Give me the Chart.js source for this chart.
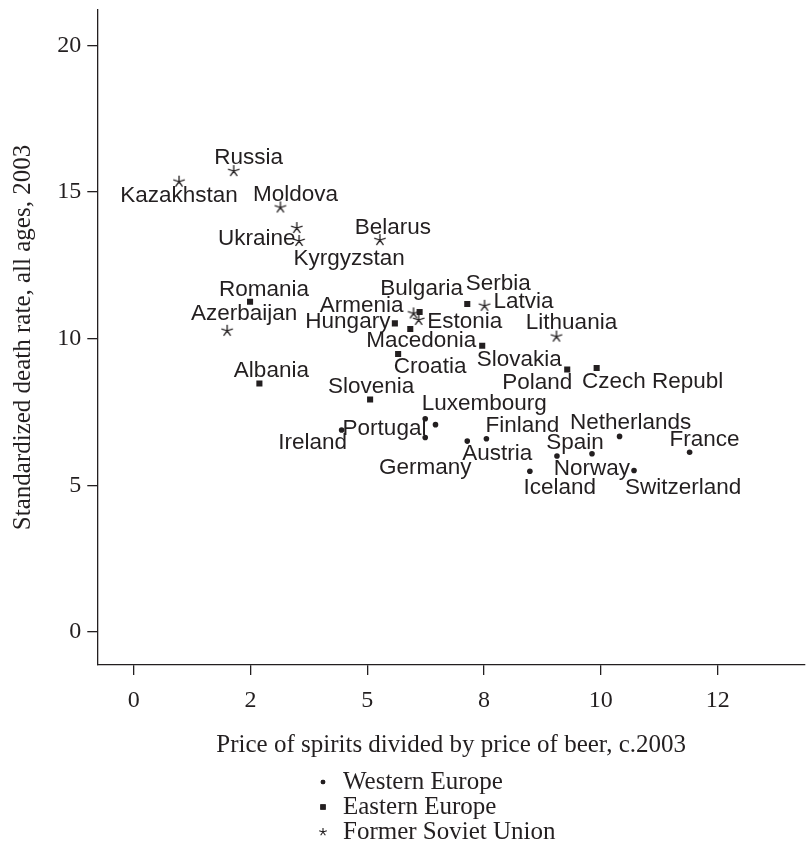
<!DOCTYPE html>
<html>
<head>
<meta charset="utf-8">
<script src="https://cdn.jsdelivr.net/npm/chart.js@4/dist/chart.umd.min.js"></script>
<style>
  html, body { margin: 0; padding: 0; background: #ffffff; }
  #wrap { width: 811px; height: 843px; }
</style>
</head>
<body>
<div id="wrap"><canvas id="c" width="811" height="843"></canvas></div>
<script>
// Price ratio of spirits to beer (x) and standardized death rate (y), by country group
const westNames = ["Ireland", "Luxembourg", "Portugal", "Germany", "Austria", "Finland",
                   "Iceland", "Norway", "Spain", "Netherlands", "Switzerland", "France"];
const westPrice = [4.45, 6.24, 6.46, 6.24, 7.14, 7.55, 8.48, 9.06, 9.81, 10.40, 10.71, 11.90];
const westDeath = [6.89, 7.27, 7.07, 6.63, 6.51, 6.59, 5.48, 6.00, 6.08, 6.67, 5.51, 6.13];

const eastNames = ["Romania", "Bulgaria", "Serbia", "Hungary", "Macedonia", "Croatia",
                   "Slovakia", "Poland", "Czech Republ", "Albania", "Slovenia"];
const eastPrice = [2.49, 6.12, 7.14, 5.59, 5.92, 5.66, 7.46, 9.28, 9.91, 2.69, 5.06];
const eastDeath = [11.26, 10.91, 11.18, 10.52, 10.33, 9.48, 9.76, 8.95, 9.00, 8.47, 7.93];

const fsuNames = ["Russia", "Kazakhstan", "Moldova", "Ukraine", "Kyrgyzstan", "Belarus",
                  "Azerbaijan", "Armenia", "Estonia", "Latvia", "Lithuania"];
const fsuPrice = [2.14, 0.97, 3.14, 3.49, 3.54, 5.27, 2.00, 5.99, 6.10, 7.51, 9.05];
const fsuDeath = [15.71, 15.35, 14.47, 13.77, 13.33, 13.36, 10.27, 10.86, 10.64, 11.12, 10.07];

const groupNames = ["Western Europe", "Eastern Europe", "Former Soviet Union"];

// Axis ticks
const xTickValues = [0, 2.5, 5, 7.5, 10, 12.5];
const xTickLabels = ["0", "2", "5", "8", "10", "12"];
const yTickValues = [0, 5, 10, 15, 20];

// Where each country name sits relative to its marker (pixels: right, down)
const labelOffset = {
  "Russia": [15, -13], "Kazakhstan": [0, 14], "Moldova": [15, -13], "Ukraine": [-40, 11],
  "Kyrgyzstan": [50, 18], "Belarus": [13, -12], "Azerbaijan": [17, -17], "Armenia": [-52, -8],
  "Estonia": [46, 2], "Latvia": [39, -4], "Lithuania": [15, -14],
  "Romania": [14, -12], "Bulgaria": [2, -23], "Serbia": [31, -20], "Hungary": [-47, -2],
  "Macedonia": [11, 12], "Croatia": [32, 13], "Slovakia": [37, 14], "Poland": [-30, 13],
  "Czech Republ": [56, 14], "Albania": [12, -13], "Slovenia": [1, -13],
  "Ireland": [-29, 13], "Portugal": [-51, 4], "Luxembourg": [59, -15], "Germany": [0, 30],
  "Austria": [30, 13], "Finland": [36, -13], "Iceland": [30, 16], "Norway": [35, 13],
  "Spain": [-17, -11], "Netherlands": [11, -14], "Switzerland": [49, 17], "France": [15, -12]
};

const INK = '#231f20';
const SERIF = '"Liberation Serif", "Times New Roman", serif';
const SANS = '"Liberation Sans", Arial, sans-serif';

// Five-spoke asterisk used for the former Soviet states
function makeStar(r, lw) {
  const s = Math.ceil(2 * r + 4);
  const c = document.createElement('canvas');
  c.width = s; c.height = s;
  const g = c.getContext('2d');
  g.strokeStyle = INK;
  g.lineWidth = lw;
  g.beginPath();
  for (let k = 0; k < 5; k++) {
    const a = -Math.PI / 2 + k * 2 * Math.PI / 5;
    g.moveTo(s / 2, s / 2);
    g.lineTo(s / 2 + r * Math.cos(a), s / 2 + r * Math.sin(a));
  }
  g.stroke();
  return c;
}
const starImg = makeStar(6, 1.3);

function toPoints(xs, ys) { return xs.map((x, i) => ({ x: x, y: ys[i] })); }

const datasets = [
  { label: groupNames[0], names: westNames, data: toPoints(westPrice, westDeath),
    pointStyle: 'circle', pointRadius: 2.8, backgroundColor: INK, borderColor: INK, borderWidth: 0 },
  { label: groupNames[1], names: eastNames, data: toPoints(eastPrice, eastDeath),
    pointStyle: 'rect', pointRadius: 4.3, backgroundColor: INK, borderColor: INK, borderWidth: 0 },
  { label: groupNames[2], names: fsuNames, data: toPoints(fsuPrice, fsuDeath),
    pointStyle: starImg, pointRadius: 6, backgroundColor: INK, borderColor: INK, borderWidth: 0 }
];

// Country names next to the markers
const countryLabels = {
  id: 'countryLabels',
  afterDatasetsDraw(chart) {
    const ctx = chart.ctx;
    ctx.save();
    ctx.font = '22.5px ' + SANS;
    ctx.fillStyle = INK;
    ctx.textAlign = 'center';
    ctx.textBaseline = 'middle';
    chart.data.datasets.forEach((ds, di) => {
      const meta = chart.getDatasetMeta(di);
      meta.data.forEach((el, i) => {
        const name = ds.names[i];
        const off = labelOffset[name] || [0, -14];
        ctx.fillText(name, el.x + off[0], el.y + off[1]);
      });
    });
    ctx.restore();
  }
};

// Stacked key under the x-axis title
const stackedKey = {
  id: 'stackedKey',
  afterDraw(chart) {
    const ctx = chart.ctx;
    const markerX = 323, textX = 343, firstY = 782, step = 25;
    ctx.save();
    ctx.font = '25px ' + SERIF;
    ctx.fillStyle = INK;
    ctx.textAlign = 'left';
    ctx.textBaseline = 'middle';
    chart.data.datasets.forEach((ds, i) => {
      const y = firstY + i * step;
      const style = ds.pointStyle;
      if (style instanceof HTMLCanvasElement) {
        const img = makeStar(4, 1.1);
        ctx.drawImage(img, markerX - img.width / 2, y - img.height / 2);
      } else {
        const r = i === 0 ? 2.3 : 3.8;
        ctx.beginPath();
        Chart.helpers.drawPoint(ctx, { pointStyle: style, radius: r, borderWidth: 0, rotation: 0 }, markerX, y);
        ctx.fill();
      }
      ctx.fillStyle = INK;
      ctx.fillText(ds.label, textX, y);
    });
    ctx.restore();
  }
};

new Chart(document.getElementById('c'), {
  type: 'scatter',
  data: { datasets: datasets },
  plugins: [countryLabels, stackedKey],
  options: {
    responsive: false,
    animation: false,
    events: [],
    layout: { padding: { top: 10, right: 3, left: 0, bottom: 83 } },
    plugins: { legend: { display: false }, tooltip: { enabled: false } },
    scales: {
      x: {
        type: 'linear',
        min: -0.78,
        max: 14.37,
        afterBuildTicks: (s) => { s.ticks = xTickValues.map(v => ({ value: v })); },
        afterFit: (s) => { s.height = 95; s.paddingLeft = 0; s.paddingRight = 0; },
        ticks: {
          autoSkip: false, maxRotation: 0, padding: 11, color: INK,
          font: { family: SERIF, size: 24 },
          callback: (v, i) => xTickLabels[i]
        },
        grid: { display: true, drawOnChartArea: false, drawTicks: true, tickLength: 10, color: INK, lineWidth: 1.3 },
        border: { display: true, color: INK, width: 1.3 },
        title: {
          display: true, text: 'Price of spirits divided by price of beer, c.2003',
          color: INK, font: { family: SERIF, size: 25 }, padding: { top: 0, bottom: 0 }
        }
      },
      y: {
        type: 'linear',
        min: -1.12,
        max: 21.2,
        afterBuildTicks: (s) => { s.ticks = yTickValues.map(v => ({ value: v })); },
        afterFit: (s) => { s.width = 97.3; s.paddingTop = 0; s.paddingBottom = 0; },
        ticks: {
          padding: 6, color: INK,
          font: { family: SERIF, size: 24 },
          callback: (v) => String(v)
        },
        grid: { display: true, drawOnChartArea: false, drawTicks: true, tickLength: 10, color: INK, lineWidth: 1.3 },
        border: { display: true, color: INK, width: 1.3 },
        title: {
          display: true, text: 'Standardized death rate, all ages, 2003',
          color: INK, font: { family: SERIF, size: 25 }, padding: { top: 8, bottom: 0 }
        }
      }
    }
  }
});
</script>
</body>
</html>
